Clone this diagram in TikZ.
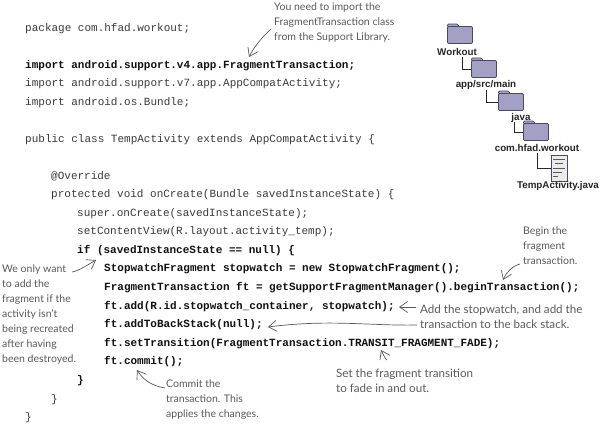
\documentclass[tikz,border=0pt]{standalone}
\usepackage{fontspec}
\usetikzlibrary{arrows.meta}
\setmonofont{Liberation Mono}
\setsansfont{Liberation Sans}
\setmainfont{Lato}
\definecolor{codegray}{HTML}{3A3A3A}
\definecolor{codeblack}{HTML}{111111}
\definecolor{notegray}{HTML}{5A5A5A}
\definecolor{folderfill}{HTML}{A3A0C6}
\definecolor{folderline}{HTML}{4A495E}
\tikzset{
  x=1pt,y=-1pt,
  code/.style={anchor=base west,inner sep=0pt,text=codegray,font=\fontsize{11}{13}\selectfont\ttfamily},
  codeb/.style={code,text=codeblack,font=\fontsize{11}{13}\selectfont\ttfamily\bfseries},
  note/.style={anchor=west,inner sep=0pt,align=left,text=notegray,font=\fontsize{10.5}{15}\selectfont},
  notewide/.style={note,font=\fontsize{11.6}{15}\selectfont},
  arrownote/.style={draw=notegray,line width=0.7pt,-{Straight Barb[length=8pt,width=11pt,line width=0.7pt]}},
  treelabel/.style={inner sep=0pt,text=black!85,font=\fontsize{9.8}{11}\selectfont\sffamily\bfseries},
  folderbody/.style={draw=folderline,line width=0.7pt,fill=folderfill,rounded corners=1.2pt,inner sep=0pt,minimum width=25pt,minimum height=17pt},
  foldertab/.style={draw=folderline,line width=0.7pt,fill=folderfill,rounded corners=1pt},
  treeline/.style={draw=black!85,line width=0.8pt},
  docbody/.style={draw=folderline,line width=0.7pt,fill=black!8,inner sep=0pt,minimum width=16pt,minimum height=26pt},
  docline/.style={draw=black!65,line width=0.6pt}
}
\newcommand{\folderat}[3]{%
  \path[foldertab] (#2-12.5,#3-8) -- ++(0,-3) -- ++(10,0) -- ++(2,3) -- cycle;
  \node[folderbody] (#1) at (#2,#3) {};
}
\begin{document}
\begin{tikzpicture}
\useasboundingbox (0,0) rectangle (600,424);
\fill[white] (0,0) rectangle (600,424);

% code
\node[code]  (l1)  at (25,31)  {package com.hfad.workout;};
\node[codeb] (l2)  at (25,68)  {import android.support.v4.app.FragmentTransaction;};
\node[code]  (l3)  at (25,86)  {import android.support.v7.app.AppCompatActivity;};
\node[code]  (l4)  at (25,105) {import android.os.Bundle;};
\node[code]  (l5)  at (25,142) {public class TempActivity extends AppCompatActivity \{};
\node[code]  (l6)  at (51,179) {@Override};
\node[code]  (l7)  at (51,197) {protected void onCreate(Bundle savedInstanceState) \{};
\node[code]  (l8)  at (77,216) {super.onCreate(savedInstanceState);};
\node[code]  (l9)  at (77,234) {setContentView(R.layout.activity\_temp);};
\node[codeb] (l10) at (77,253) {if (savedInstanceState == null) \{};
\node[codeb] (l11) at (104,271) {StopwatchFragment stopwatch = new StopwatchFragment();};
\node[codeb] (l12) at (104,290) {FragmentTransaction ft = getSupportFragmentManager().beginTransaction();};
\node[codeb] (l13) at (104,309) {ft.add(R.id.stopwatch\_container, stopwatch);};
\node[codeb] (l14) at (104,327) {ft.addToBackStack(null);};
\node[codeb] (l15) at (104,346) {ft.setTransition(FragmentTransaction.TRANSIT\_FRAGMENT\_FADE);};
\node[codeb] (l16) at (104,364) {ft.commit();};
\node[codeb] (l17) at (77,383) {\}};
\node[code]  (l18) at (51,402) {\}};
\node[code]  (l19) at (25,420) {\}};

% notes
\node[note] (n1) at (274,23)  {You need to import the\\FragmentTransaction class\\from the Support Library.};
\node[note] (n2) at (2,315)   {We only want\\to add the\\fragment if the\\activity isn't\\being recreated\\after having\\been destroyed.};
\node[note] (n3) at (523,246) {Begin the\\fragment\\transaction.};
\node[notewide] (n4) at (420,317) {Add the stopwatch, and add the\\transaction to the back stack.};
\node[notewide] (n5) at (336,381) {Set the fragment transition\\to fade in and out.};
\node[note] (n6) at (166,400) {Commit the\\transaction. This\\applies the changes.};

% note arrows
\coordinate (t1) at (249,57);
\coordinate (t2) at (96,260);
\coordinate (t3) at (137,370);
\coordinate (t4) at (268,327);
\coordinate (t5) at (399,307);
\coordinate (t6) at (503,280);
\coordinate (t7) at (381,350);
\draw[arrownote] ([xshift=-3pt,yshift=14pt]n1.south west) .. controls (260,39) and (253,49) .. (t1);
\draw[arrownote] ([xshift=70pt,yshift=43pt]n2.west) .. controls (78,271) and (86,266) .. (t2);
\draw[arrownote] ([xshift=-1pt,yshift=-8pt]n6.north west) .. controls (153,386) and (144,381) .. (t3);
\draw[arrownote] ([xshift=-3pt,yshift=-8pt]n4.west) .. controls (370,326) and (330,319) .. (t4);
\draw[arrownote] ([xshift=-4pt,yshift=10pt]n4.west) -- (t5);
\draw[arrownote] ([xshift=-3pt,yshift=-18pt]n3.west) .. controls (512,266) and (506,273) .. (t6);
\draw[arrownote] ([xshift=51pt,yshift=9pt]n5.north west) .. controls (386,360) and (384,356) .. (t7);

% folder tree
\folderat{f1}{460}{35}
\node[treelabel] (w1) at (457,52) {Workout};
\folderat{f2}{484}{69}
\node[treelabel] (w2) at (486,85) {app/src/main};
\folderat{f3}{511}{102}
\node[treelabel] (w3) at (521,118) {java};
\folderat{f4}{536}{132}
\node[treelabel] (w4) at (537,148) {com.hfad.workout};
\node[docbody] (d1) at (559,168) {};
\draw[docline] (553,159) -- (565,159) (555,163) -- (563,163) (553,168) -- (565,168) (553,172) -- (562,172) (553,176) -- (558,176);
\node[treelabel] (w5) at (558,186) {TempActivity.java};

\coordinate (c1) at (462.5,57);
\coordinate (c2) at (486.5,90);
\coordinate (c3) at (514,122);
\coordinate (c4) at (537.5,153);
\draw[treeline] (c1) |- (f2.west);
\draw[treeline] (c2) |- (f3.west);
\draw[treeline] (c3) |- (f4.west);
\draw[treeline] (c4) |- (d1.west);
\end{tikzpicture}
\end{document}
